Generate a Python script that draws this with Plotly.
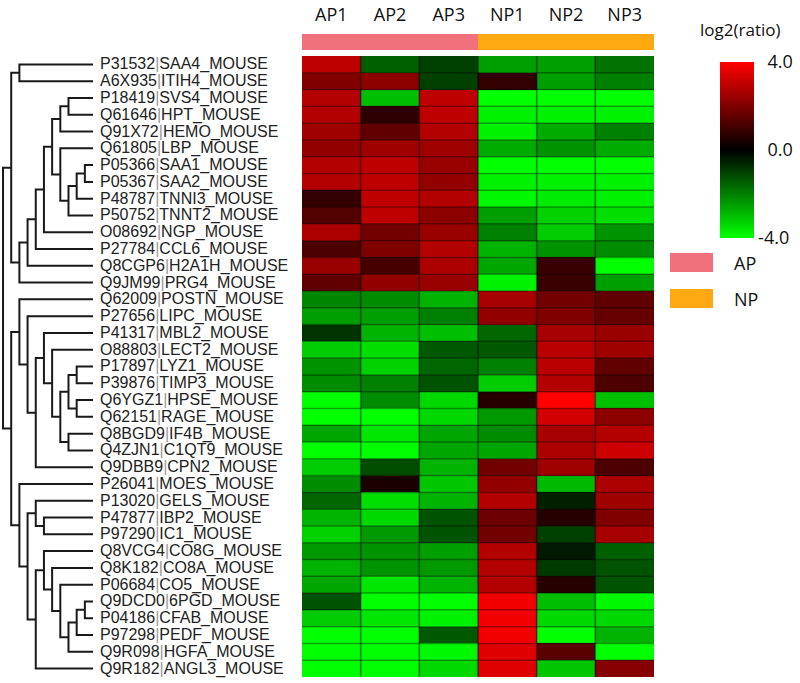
import plotly.graph_objects as go

samples = ['AP1', 'AP2', 'AP3', 'NP1', 'NP2', 'NP3']
groups = ['AP', 'AP', 'AP', 'NP', 'NP', 'NP']
group_colors = {'AP': '#F0707C', 'NP': '#FFA812'}

proteins = [
    'P31532|SAA4_MOUSE', 'A6X935|ITIH4_MOUSE', 'P18419|SVS4_MOUSE', 'Q61646|HPT_MOUSE',
    'Q91X72|HEMO_MOUSE', 'Q61805|LBP_MOUSE', 'P05366|SAA1_MOUSE', 'P05367|SAA2_MOUSE',
    'P48787|TNNI3_MOUSE', 'P50752|TNNT2_MOUSE', 'O08692|NGP_MOUSE', 'P27784|CCL6_MOUSE',
    'Q8CGP6|H2A1H_MOUSE', 'Q9JM99|PRG4_MOUSE', 'Q62009|POSTN_MOUSE', 'P27656|LIPC_MOUSE',
    'P41317|MBL2_MOUSE', 'O88803|LECT2_MOUSE', 'P17897|LYZ1_MOUSE', 'P39876|TIMP3_MOUSE',
    'Q6YGZ1|HPSE_MOUSE', 'Q62151|RAGE_MOUSE', 'Q8BGD9|IF4B_MOUSE', 'Q4ZJN1|C1QT9_MOUSE',
    'Q9DBB9|CPN2_MOUSE', 'P26041|MOES_MOUSE', 'P13020|GELS_MOUSE', 'P47877|IBP2_MOUSE',
    'P97290|IC1_MOUSE', 'Q8VCG4|CO8G_MOUSE', 'Q8K182|CO8A_MOUSE', 'P06684|CO5_MOUSE',
    'Q9DCD0|6PGD_MOUSE', 'P04186|CFAB_MOUSE', 'P97298|PEDF_MOUSE', 'Q9R098|HGFA_MOUSE',
    'Q9R182|ANGL3_MOUSE',
]

log2_ratio = [
    [3.0, -1.5, -1.0, -2.5, -2.5, -1.8],
    [2.0, 2.2, -1.0, 0.8, -2.5, -2.0],
    [2.8, -3.0, 3.0, -4.0, -4.0, -4.0],
    [2.8, 0.7, 3.0, -3.8, -3.8, -3.8],
    [2.5, 1.5, 2.8, -3.8, -2.7, -2.0],
    [2.3, 2.5, 2.5, -2.7, -2.3, -2.7],
    [2.8, 3.0, 2.4, -4.0, -4.0, -4.0],
    [2.8, 3.0, 2.3, -3.8, -3.8, -3.8],
    [0.8, 3.0, 2.8, -3.9, -3.7, -3.8],
    [1.3, 3.0, 2.2, -2.5, -3.3, -3.5],
    [2.7, 1.8, 2.4, -2.0, -3.2, -2.3],
    [1.2, 2.0, 2.8, -2.8, -2.3, -2.2],
    [2.4, 1.1, 2.7, -2.6, 0.9, -4.0],
    [1.5, 2.3, 2.4, -3.8, 0.9, -2.5],
    [-2.1, -2.2, -2.8, 2.6, 1.8, 1.5],
    [-2.5, -2.5, -2.0, 2.3, 2.0, 1.6],
    [-0.8, -2.8, -3.0, -1.6, 2.6, 2.4],
    [-3.2, -3.5, -1.4, -1.4, 2.9, 2.5],
    [-2.3, -3.3, -1.6, -2.0, 2.9, 1.5],
    [-2.2, -2.0, -1.3, -3.2, 2.8, 1.2],
    [-4.0, -2.2, -3.4, 0.6, 4.0, -3.0],
    [-4.0, -4.0, -3.4, -2.4, 3.3, 2.2],
    [-2.6, -3.6, -2.6, -2.2, 2.6, 2.8],
    [-4.0, -4.0, -2.6, -2.6, 2.7, 3.2],
    [-3.2, -1.2, -2.8, 1.8, 2.5, 1.2],
    [-2.2, 0.4, -3.1, 2.3, -2.9, 2.7],
    [-1.6, -3.5, -2.8, 2.8, -0.5, 2.5],
    [-2.8, -3.4, -1.3, 1.7, 0.6, 2.0],
    [-3.3, -2.4, -1.3, 1.8, -1.0, 2.6],
    [-2.4, -2.3, -2.5, 2.8, -0.4, -1.5],
    [-2.8, -2.3, -2.4, 2.8, -0.9, -1.3],
    [-2.6, -3.6, -2.8, 2.8, 0.6, -1.3],
    [-1.3, -4.0, -4.0, 3.8, -3.0, -3.9],
    [-3.2, -3.6, -3.8, 3.8, -3.4, -3.4],
    [-4.0, -4.0, -1.4, 3.8, -4.0, -2.8],
    [-4.0, -4.0, -3.9, 3.5, 1.4, -4.0],
    [-4.0, -4.0, -3.4, 3.5, -3.1, 2.1],
]

# row dendrogram: (cluster, left, right, merge level); ints are row indices
merges = [
    ('a', 0, 1, 9), ('b', 2, 3, 3), ('c', 'b', 4, 4), ('d', 6, 7, 1),
    ('e', 'd', 8, 2), ('f', 'e', 9, 3), ('g', 5, 'f', 4), ('h', 'c', 'g', 5),
    ('i', 'h', 10, 6), ('j', 'i', 11, 7), ('k', 'j', 12, 8), ('l', 'k', 13, 9),
    ('m', 'a', 'l', 10),
    ('n', 18, 19, 2), ('o', 20, 21, 2), ('p', 'n', 'o', 3), ('q', 22, 23, 3),
    ('r', 'p', 'q', 4), ('s', 17, 'r', 5), ('t', 16, 's', 6), ('u', 't', 24, 7),
    ('v', 15, 'u', 8), ('w', 14, 'v', 9),
    ('y', 27, 28, 6), ('z', 26, 'y', 7), ('aa', 32, 33, 1), ('ab', 'aa', 34, 2),
    ('ac', 'ab', 35, 3), ('ad', 31, 'ac', 4), ('ae', 30, 'ad', 5), ('af', 29, 'ae', 6),
    ('ag', 'af', 36, 7), ('ah', 'z', 'ag', 8), ('ai', 25, 'ah', 9),
    ('x', 'w', 'ai', 10), ('root', 'm', 'x', 11),
]

n_rows = len(proteins)
n_cols = len(samples)

fig = go.Figure()

# dendrogram lines
pos = {i: (i, 0) for i in range(n_rows)}
dx, dy = [], []
for name, left, right, lev in merges:
    yl, hl = pos[left]
    yr, hr = pos[right]
    dx += [hl, lev, lev, hr, None]
    dy += [yl, yl, yr, yr, None]
    pos[name] = ((yl + yr) / 2, lev)

fig.add_trace(go.Scatter(x=dx, y=dy, mode='lines', xaxis='x3', yaxis='y',
                         line=dict(color='#1a1a1a', width=2), hoverinfo='skip',
                         showlegend=False))

fig.add_trace(go.Heatmap(
    z=log2_ratio, x=list(range(n_cols)), y=list(range(n_rows)),
    zmin=-4, zmax=4,
    colorscale=[[0, '#00FF00'], [0.5, '#000000'], [1, '#FF0000']],
    colorbar=dict(x=0.9, xanchor='left', y=0.7804, yanchor='middle',
                  len=176, lenmode='pixels', thickness=34, xpad=0, ypad=0,
                  outlinewidth=0, ticks='', tickvals=[4, 0, -4],
                  ticktext=['\u00a0\u00a04.0', '\u00a0\u00a00.0', '-4.0'],
                  tickfont=dict(family='Open Sans', size=18, color='#111')),
))

# group annotation bar
fig.add_trace(go.Heatmap(
    z=[[0 if g == 'AP' else 1 for g in groups]], x=list(range(n_cols)), y=[0],
    xaxis='x2', yaxis='y2', zmin=0, zmax=1, showscale=False,
    colorscale=[[0, group_colors['AP']], [0.5, group_colors['AP']],
                [0.5, group_colors['NP']], [1, group_colors['NP']]],
))

# darker cell borders drawn over the heatmap
shapes = []
for r in range(1, n_rows):
    shapes.append(dict(type='line', xref='x', yref='y', x0=-0.5, x1=n_cols - 0.5,
                       y0=r - 0.5, y1=r - 0.5, line=dict(color='rgba(0,0,0,0.35)', width=1.5)))
for c in range(1, n_cols):
    shapes.append(dict(type='line', xref='x', yref='y', x0=c - 0.5, x1=c - 0.5,
                       y0=-0.5, y1=n_rows - 0.5, line=dict(color='rgba(0,0,0,0.5)', width=1.5)))

annotations = []
for i, p in enumerate(proteins):
    pid, pname = p.split('|')
    annotations.append(dict(
        x=0.1225, xref='paper', y=i, yref='y', xanchor='left', yanchor='middle',
        text=pid + "<span style='color:#999'>|</span>" + pname, showarrow=False,
        font=dict(family='Liberation Sans', size=16, color='#222')))

annotations.append(dict(x=0.925, y=1 - 30 / 683, xref='paper', yref='paper',
                        xanchor='center', yanchor='middle', text='log2(ratio)',
                        showarrow=False, font=dict(family='Open Sans', size=17, color='#111')))

for k, g in enumerate(['AP', 'NP']):
    y0 = 1 - (272 + k * 36) / 683
    shapes.append(dict(type='rect', xref='paper', yref='paper', x0=0.8375, x1=0.8913,
                       y0=y0, y1=y0 + 19 / 683, fillcolor=group_colors[g], line_width=0))
    annotations.append(dict(x=0.915, y=y0 + 9.5 / 683, xref='paper', yref='paper',
                            xanchor='left', yanchor='middle', text=g, showarrow=False,
                            font=dict(family='Open Sans', size=18, color='#111')))

fig.update_layout(
    width=800, height=683, margin=dict(l=0, r=0, t=0, b=0),
    paper_bgcolor='white', plot_bgcolor='white',
    xaxis=dict(domain=[0.3775, 0.8175], range=[-0.5, n_cols - 0.5], showticklabels=False,
               showgrid=False, zeroline=False, ticks=''),
    yaxis=dict(domain=[0.0088, 0.918], range=[n_rows - 0.5, -0.5], showticklabels=False,
               showgrid=False, zeroline=False, ticks=''),
    xaxis2=dict(domain=[0.3775, 0.8175], range=[-0.5, n_cols - 0.5], anchor='y2', side='top',
                tickvals=list(range(n_cols)), ticktext=samples, ticks='', showgrid=False,
                zeroline=False, ticklabelstandoff=8,
                tickfont=dict(family='Open Sans', size=18, color='#111')),
    yaxis2=dict(domain=[0.9268, 0.9502], anchor='x2', showticklabels=False,
                showgrid=False, zeroline=False, ticks=''),
    xaxis3=dict(domain=[0, 0.125], range=[11.37, -0.85], anchor='y', visible=False),
    shapes=shapes, annotations=annotations,
)

fig.write_html('out.html', config={'displayModeBar': False},
               post_script="document.body.style.margin='0';")
